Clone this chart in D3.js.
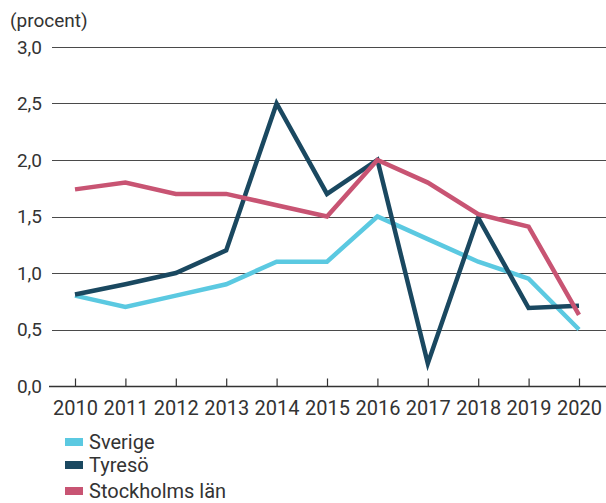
<!DOCTYPE html>
<html>
<head>
<meta charset="utf-8">
<script src="https://cdn.jsdelivr.net/npm/d3@7"></script>
<style>
  body { margin: 0; background: #fff; }
  svg text { font-family: Roboto, "Noto Sans", sans-serif; fill: #333; }
</style>
</head>
<body>
<div id="chart"></div>
<script>
// data
let years = [2010, 2011, 2012, 2013, 2014, 2015, 2016, 2017, 2018, 2019, 2020];
let sverige = [0.8, 0.7, 0.8, 0.9, 1.1, 1.1, 1.5, 1.3, 1.1, 0.95, 0.5];
let tyreso = [0.81, 0.9, 1.0, 1.2, 2.5, 1.7, 2.0, 0.2, 1.49, 0.69, 0.71];
let stockholm = [1.74, 1.8, 1.7, 1.7, 1.6, 1.5, 2.0, 1.8, 1.52, 1.41, 0.63];
let yTicks = [0, 0.5, 1, 1.5, 2, 2.5, 3];

let series = [
  {name: "Sverige", values: sverige, color: "#5bc9e1"},
  {name: "Tyresö", values: tyreso, color: "#1a4860"},
  {name: "Stockholms län", values: stockholm, color: "#c85473"}
];

let width = 606, height = 503;
let margin = {top: 47, right: 0, bottom: 117, left: 52};

let svg = d3.select("#chart").append("svg")
  .attr("width", width)
  .attr("height", height);

let xScale = d3.scalePoint()
  .domain(years)
  .range([75, 579]);

let yScale = d3.scaleLinear()
  .domain([0, 3])
  .range([height - margin.bottom, margin.top]);

// gridlines
svg.append("g").selectAll("line")
  .data(yTicks.filter(d => d > 0))
  .enter().append("line")
    .attr("x1", margin.left)
    .attr("x2", width)
    .attr("y1", d => Math.round(yScale(d)) + 0.5)
    .attr("y2", d => Math.round(yScale(d)) + 0.5)
    .attr("stroke", "#4a4a4a")
    .attr("stroke-width", 1);

// y labels
let fmt = d => d3.format(".1f")(d).replace(".", ",");
svg.append("g").selectAll("text")
  .data(yTicks)
  .enter().append("text")
    .attr("x", 42)
    .attr("y", d => yScale(d))
    .attr("dy", "0.36em")
    .attr("text-anchor", "end")
    .style("font-size", "19px")
    .text(fmt);

svg.append("text")
  .attr("x", 10)
  .attr("y", 27)
  .style("font-size", "19px")
  .text("(procent)");

// x axis
let xAxis = d3.axisBottom(xScale).tickSizeInner(-8).tickSizeOuter(0).tickPadding(14);
let xAxisGroup = svg.append("g")
  .attr("transform", "translate(0," + (Math.round(yScale(0)) + 0.5) + ")")
  .call(xAxis);
xAxisGroup.select(".domain").remove();
xAxisGroup.append("line")
  .attr("x1", 49).attr("x2", width)
  .attr("stroke", "#333").attr("stroke-width", 1.5);
xAxisGroup.selectAll(".tick line").attr("stroke", "#333").attr("stroke-width", 1.2);
xAxisGroup.selectAll("text")
  .style("font-size", "20px")
  .style("font-family", "Roboto, sans-serif")
  .attr("fill", "#333");

// lines
let line = d3.line()
  .x((d, i) => xScale(years[i]))
  .y(d => yScale(d))
  .curve(d3.curveLinear);

svg.append("g").selectAll("path")
  .data(series)
  .enter().append("path")
    .attr("fill", "none")
    .attr("stroke", d => d.color)
    .attr("stroke-width", 4.5)
    .attr("stroke-linejoin", "miter")
    .attr("d", d => line(d.values));

// legend
let legend = svg.append("g").selectAll("g")
  .data(series)
  .enter().append("g")
    .attr("transform", (d, i) => "translate(65," + [442, 465, 491][i] + ")");
legend.append("rect")
  .attr("x", 0).attr("y", -4)
  .attr("width", 18).attr("height", 8)
  .attr("fill", d => d.color);
legend.append("text")
  .attr("x", 24)
  .attr("dy", "0.36em")
  .style("font-size", "20px")
  .text(d => d.name);
</script>
</body>
</html>
